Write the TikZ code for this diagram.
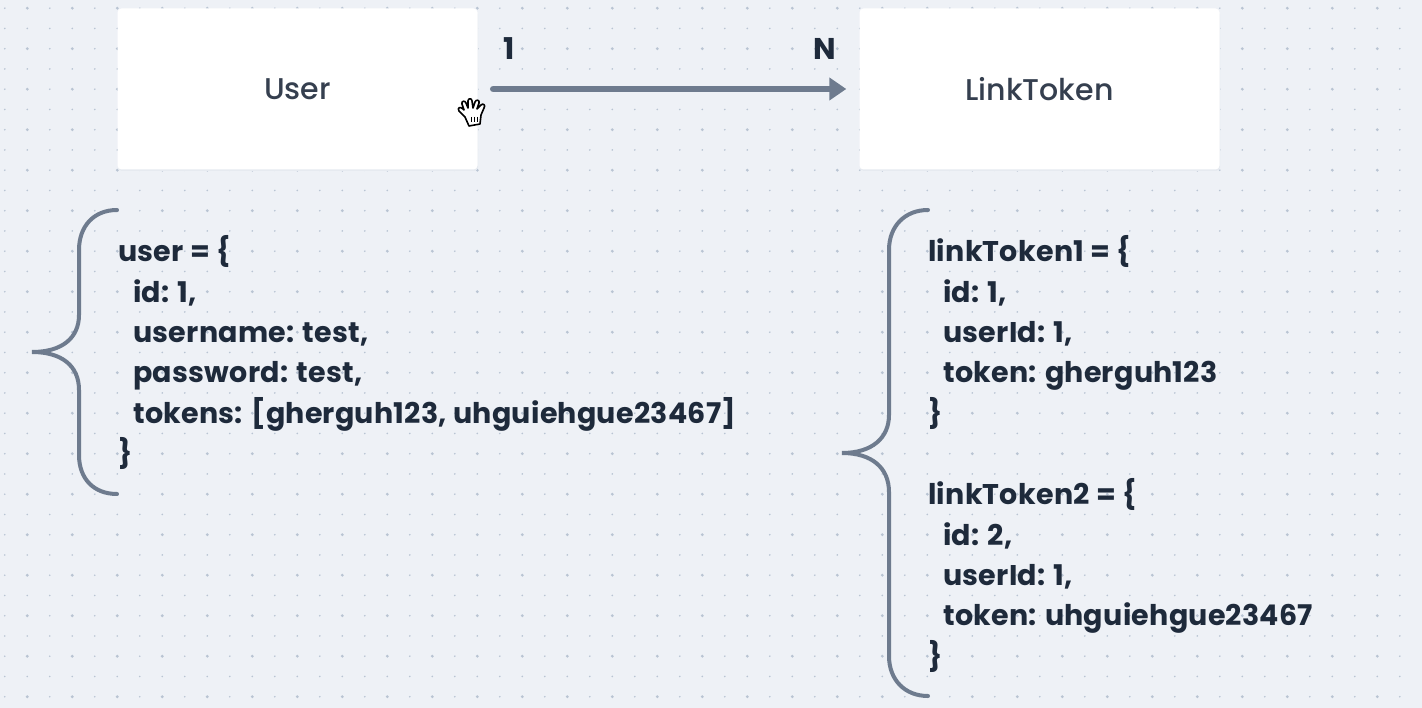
\documentclass[tikz,border=0pt]{standalone}
\usepackage{fontspec}
\setmainfont[BoldFont={Poppins Bold}]{Poppins}
\newfontfamily\cardfont{Poppins Medium}
\newfontfamily\codefont[LetterSpace=0.9]{Poppins Bold}
\usetikzlibrary{arrows.meta}
\definecolor{canvasbg}{HTML}{EEF1F6}
\definecolor{griddot}{HTML}{B9C4D3}
\definecolor{inkdark}{HTML}{1E2A3B}
\definecolor{linkgray}{HTML}{6E7B8E}
\tikzset{
    card/.style={fill=white, rounded corners=4pt, minimum width=360pt, minimum height=161pt, inner sep=0pt, font=\cardfont\fontsize{30}{35}\selectfont, text=inkdark!90},
    cardshadow/.style={fill=griddot!35, rounded corners=4pt},
    cardinal/.style={inner sep=0pt, font=\bfseries\fontsize{30}{35}\selectfont, text=inkdark},
    codeblock/.style={inner sep=0pt, anchor=north west, align=left, font=\codefont\fontsize{28.5}{40.4}\selectfont, text=inkdark},
    bracket/.style={draw=linkgray, line width=4pt, line cap=round},
    flow/.style={draw=linkgray, line width=6.5pt, line cap=round, -{Triangle[length=17pt,width=22pt]}, shorten <=15.5pt, shorten >=13pt}
}
\begin{document}
\begin{tikzpicture}[x=1pt, y=-1pt]
    % Canvas
    \fill[canvasbg] (0,0) rectangle (1422,708);
    \useasboundingbox (0,0) rectangle (1422,708);
    \foreach \col in {0,...,62} {
        \foreach \row in {0,...,34} {
            \pgfmathsetmacro{\dotx}{4.8+22.5*\col}
            \pgfmathsetmacro{\doty}{8.2+20.25*\row}
            \pgfmathsetmacro{\dotr}{(mod(\col,2)==1 && mod(\row,2)==0) ? 1.6 : 0.9}
            \fill[griddot] (\dotx,\doty) circle (\dotr pt);
        }
    }

    % Entities
    \fill[cardshadow] (118,11) rectangle (478,171);
    \fill[cardshadow] (860,11) rectangle (1220,171);
    \node[card] (user) at (297.5,89) {User};
    \node[card] (linktoken) at (1039.5,89) {LinkToken};
    \draw[flow] (user) -- (linktoken);
    \node[cardinal] (one) at (509,49) {1};
    \node[cardinal] (many) at (825,49) {N};

    % Cursor
    \begin{scope}[shift={(471,114)}]
        \draw[black, line width=1.6pt, fill=white, line join=round] (-6,3) -- (-12,-3) .. controls (-14,-6) and (-11,-8) .. (-8,-5)
            -- (-7,-4) -- (-9,-10) .. controls (-10,-13) and (-6,-14) .. (-5,-11) -- (-3,-6)
            -- (-3,-13) .. controls (-3,-16) and (1,-16) .. (1,-13) -- (2,-6)
            -- (4,-12) .. controls (5,-15) and (9,-14) .. (8,-11) -- (6,-5)
            -- (10,-9) .. controls (12,-11) and (15,-9) .. (13,-6) -- (10,1) -- (9,10) -- (-2,12) -- cycle;
        \draw[black, line width=1pt] (0,3) -- (0,8) (3,3) -- (3,8) (6,3) -- (6,8);
    \end{scope}

    % Left brace
    \draw[bracket] (117,210) .. controls (94,210) and (79,226) .. (79,250) -- (79,315)
        .. controls (79,338) and (62,352) .. (32,352) .. controls (62,352) and (79,366) .. (79,390)
        -- (79,455) .. controls (79,479) and (94,494) .. (117,494);
    \node[codeblock] (usercode) at (118,235.5) {user = \{\\
        \hspace{15pt}id: 1,\\
        \hspace{15pt}username: test,\\
        \hspace{15pt}password: test,\\
        \hspace{15pt}tokens: [gherguh123, uhguiehgue23467]\\
        \}};

    % Right brace
    \draw[bracket] (928,210) .. controls (905,210) and (889,226) .. (889,250) -- (889,415)
        .. controls (889,438) and (872,453) .. (842,453) .. controls (872,453) and (889,468) .. (889,492)
        -- (889,656) .. controls (889,680) and (905,696) .. (928,696);
    \node[codeblock] (tokencode) at (928,235.5) {linkToken1 = \{\\
        \hspace{15pt}id: 1,\\
        \hspace{15pt}userId: 1,\\
        \hspace{15pt}token: gherguh123\\
        \}\\[41pt]
        linkToken2 = \{\\
        \hspace{15pt}id: 2,\\
        \hspace{15pt}userId: 1,\\
        \hspace{15pt}token: uhguiehgue23467\\
        \}};
\end{tikzpicture}
\end{document}
